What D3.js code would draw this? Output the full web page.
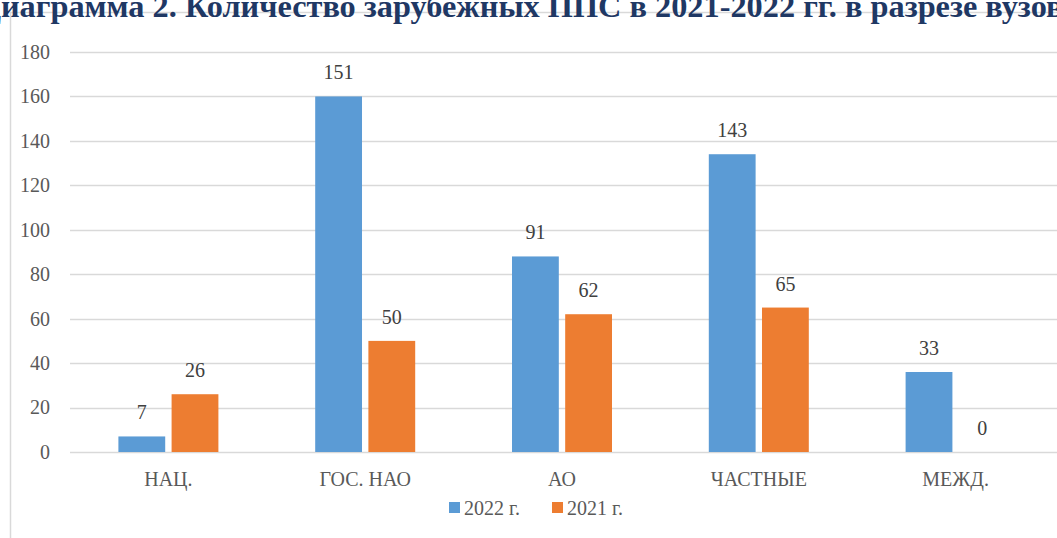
<!DOCTYPE html>
<html><head><meta charset="utf-8">
<script src="https://cdn.jsdelivr.net/npm/d3@7"></script>
<style>
body{margin:0;background:#fff;overflow:hidden}
#wrap{position:relative;width:1057px;height:538px;overflow:hidden;font-family:"Liberation Serif","Times New Roman",serif}
#title{position:absolute;white-space:nowrap;font-weight:bold;color:#1F3864;line-height:1;font-family:"Liberation Serif","Times New Roman",serif}
svg{position:absolute;left:0;top:0;display:block}
svg text{font-family:"Liberation Serif","Times New Roman",serif}
</style>
</head><body>
<div id="wrap"></div>
<script>
const categories = ["НАЦ.", "ГОС. НАО", "АО", "ЧАСТНЫЕ", "МЕЖД."];
const seriesNames = ["2022 г.", "2021 г."];
const values2022 = [7, 160, 88, 134, 36];
const values2021 = [26, 50, 62, 65, 0];
const labels2022 = ["7", "151", "91", "143", "33"];
const labels2021 = ["26", "50", "62", "65", "0"];
const yTicks = [0, 20, 40, 60, 80, 100, 120, 140, 160, 180];
const title = "Диаграмма 2. Количество зарубежных ППС в 2021-2022 гг. в разрезе вузов";
const colors = ["#5B9BD5", "#ED7D31"];

const W = 1057, H = 538;
const FF = "Liberation Serif";
const wrap = d3.select("#wrap");
const svg = wrap.append("svg").attr("width", W).attr("height", H);

// frame
svg.append("rect").attr("x", 10.5).attr("y", 12.5).attr("width", 1100).attr("height", 600)
  .attr("fill", "none").attr("stroke", "#d9d9d9").attr("stroke-width", 1.5);

// title as HTML text, cut off at the top like the reference
const tdiv = wrap.append("div").attr("id", "title");
const sD = tdiv.append("span").text(title.slice(0, 1));
const sR = tdiv.append("span").text(title.slice(1));
let TS = 30;
tdiv.style("font-size", TS + "px");
const wR = sR.node().getBoundingClientRect().width;
TS = TS * 1063 / wR;
tdiv.style("font-size", TS + "px");
const dw = sD.node().getBoundingClientRect().width;
const baseline = 17;
const topPos = baseline - (TS * (1 - 1.107) / 2 + 0.891 * TS);
tdiv.style("left", (1 - dw) + "px").style("top", topPos + "px");

const x0 = d3.scaleBand().domain(categories).range([70, 1054]);
const x1 = d3.scaleBand().domain(seriesNames).range([0, 100]).paddingInner(0.12);
const y = d3.scaleLinear().domain([0, 180]).range([452, 52]);

// grid
svg.append("g").selectAll("line").data(yTicks).join("line")
  .attr("x1", 70).attr("x2", W).attr("y1", d => Math.round(y(d)) + 0.5).attr("y2", d => Math.round(y(d)) + 0.5)
  .attr("stroke", "#d9d9d9").attr("stroke-width", 1.3);

// y axis labels
const yAxis = svg.append("g").attr("transform", "translate(70,0)")
  .call(d3.axisLeft(y).tickValues(yTicks).tickSize(0).tickPadding(20));
yAxis.attr("font-family", FF).attr("font-size", 20);
yAxis.select(".domain").remove();
yAxis.selectAll("text").attr("font-family", FF).attr("font-size", 20).attr("fill", "#595959");

// x axis labels
const xAxis = svg.append("g").attr("transform", "translate(0,452)")
  .call(d3.axisBottom(x0).tickSize(0).tickPadding(20));
xAxis.attr("font-family", FF).attr("font-size", 20);
xAxis.select(".domain").remove();
xAxis.selectAll("text").attr("font-family", FF).attr("font-size", 20).attr("fill", "#595959");

const data = categories.map((c, i) => ({cat: c, items: [
  {s: seriesNames[0], v: values2022[i], l: labels2022[i]},
  {s: seriesNames[1], v: values2021[i], l: labels2021[i]}]}));
const off = (x0.bandwidth() - 100) / 2;
const g = svg.append("g").selectAll("g").data(data).join("g")
  .attr("transform", d => `translate(${x0(d.cat) + off},0)`);
g.selectAll("rect").data(d => d.items).join("rect")
  .attr("x", d => x1(d.s)).attr("width", x1.bandwidth())
  .attr("y", d => y(d.v)).attr("height", d => y(0) - y(d.v))
  .attr("fill", (d, i) => colors[i]);
g.selectAll("text").data(d => d.items).join("text")
  .attr("x", d => x1(d.s) + x1.bandwidth() / 2).attr("y", d => y(d.v) - 17)
  .attr("text-anchor", "middle").attr("font-family", FF).attr("font-size", 20)
  .attr("fill", "#404040").text(d => d.l);

// legend
const lg = svg.append("g");
const lx = [449, 552];
seriesNames.forEach((s, i) => {
  lg.append("rect").attr("x", lx[i]).attr("y", 502).attr("width", 11).attr("height", 11).attr("fill", colors[i]);
  lg.append("text").attr("x", lx[i] + 15).attr("y", 515).attr("font-family", FF).attr("font-size", 20)
    .attr("fill", "#595959").text(s);
});
</script>
</body></html>
